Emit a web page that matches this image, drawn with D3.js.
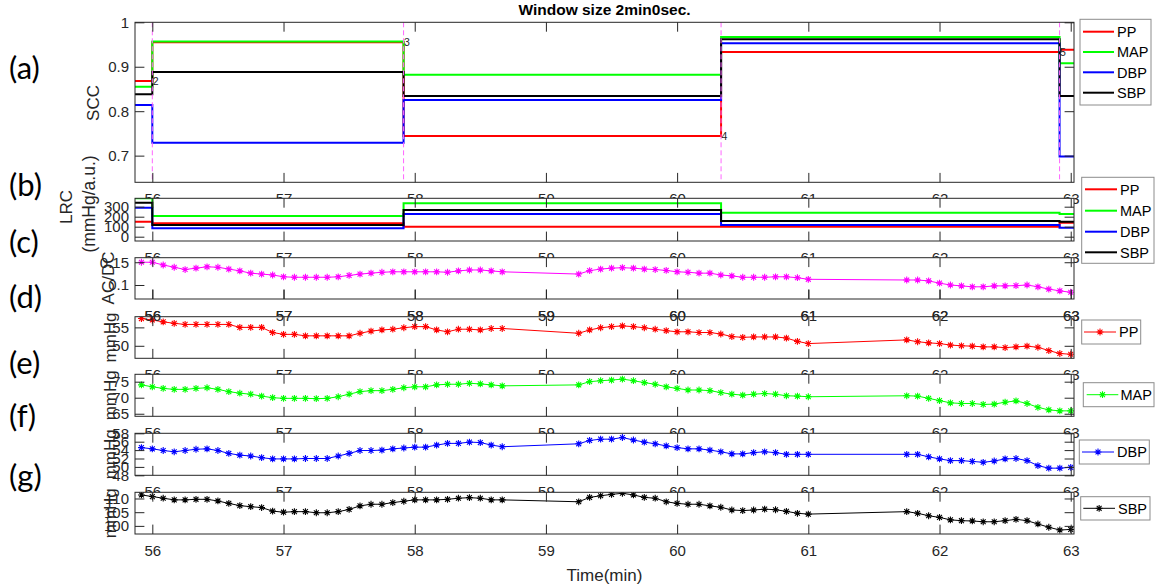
<!DOCTYPE html>
<html>
<head>
<meta charset="utf-8">
<script src="https://cdn.jsdelivr.net/npm/d3@7"></script>
<style>
  body { margin: 0; background: #fff; }
  svg text { font-family: Arial, "Liberation Sans", Helvetica, sans-serif; }
</style>
</head>
<body>
<svg id="chart" width="1156" height="588"></svg>
<script>
// ---------------- data ----------------
const xTicks = [56, 57, 58, 59, 60, 61, 62, 63];
const xDomain = [55.868, 63.025];

// analysis window edges (min) and numbered boundaries
const windowEdges = [55.868, 56.0, 57.915, 60.335, 62.915, 63.025];
const eventTimes = [56.0, 57.915, 60.335, 62.915];
const eventLabels = ["2", "3", "4", "5"];

const seriesNames = ["PP", "MAP", "DBP", "SBP"];

// (a) SCC per window
const sccPP  = [0.868, 0.955, 0.744, 0.933, 0.938];
const sccMAP = [0.855, 0.957, 0.882, 0.967, 0.908];
const sccDBP = [0.814, 0.729, 0.825, 0.953, 0.698];
const sccSBP = [0.838, 0.888, 0.834, 0.962, 0.834];
const sccTicks = [0.7, 0.8, 0.9, 1];

// (b) LRC per window
const lrcPP  = [150, 134, 100, 100, 140];
const lrcMAP = [384, 207, 334, 240, 227];
const lrcDBP = [290, 84, 227, 117, 90];
const lrcSBP = [340, 117, 267, 157, 150];
const lrcTicks = [0, 100, 200, 300];

// beat-averaged samples (min)
const time = [
  55.917, 56.000, 56.083, 56.167, 56.250, 56.333, 56.417, 56.500, 56.583, 56.667,
  56.750, 56.833, 56.917, 57.000, 57.083, 57.167, 57.250, 57.333, 57.417, 57.500,
  57.583, 57.667, 57.750, 57.833, 57.917, 58.000, 58.083, 58.167, 58.250, 58.333,
  58.417, 58.500, 58.583, 58.667,
  59.250, 59.333, 59.417, 59.500, 59.583, 59.667, 59.750, 59.833, 59.917, 60.000,
  60.083, 60.167, 60.250, 60.333, 60.417, 60.500, 60.583, 60.667, 60.750, 60.833,
  60.917, 61.000,
  61.750, 61.833, 61.917, 62.000, 62.083, 62.167, 62.250, 62.333, 62.417, 62.500,
  62.583, 62.667, 62.750, 62.833, 62.917, 63.000
];

// (c) AC/DC
const acdc = [
  0.150, 0.150, 0.144, 0.139, 0.134, 0.137, 0.140, 0.139, 0.135, 0.131,
  0.126, 0.124, 0.122, 0.118, 0.117, 0.117, 0.117, 0.117, 0.118, 0.121,
  0.124, 0.126, 0.128, 0.129, 0.129, 0.129, 0.129, 0.129, 0.128, 0.131,
  0.133, 0.133, 0.131, 0.129,
  0.124, 0.1315, 0.135, 0.137, 0.138, 0.137, 0.135, 0.134, 0.132, 0.129,
  0.128, 0.126, 0.126, 0.122, 0.120, 0.117, 0.117, 0.117, 0.118, 0.118,
  0.116, 0.1125,
  0.111, 0.111, 0.109, 0.104, 0.100, 0.098, 0.096, 0.096, 0.098, 0.098,
  0.0985, 0.100, 0.096, 0.091, 0.087, 0.084
];
const acdcTicks = [0.1, 0.15];

// (d) PP
const pp = [
  57.4, 57.0, 56.5, 56.1, 55.8, 55.8, 55.8, 55.8, 55.8, 55.0,
  55.0, 55.0, 53.6, 53.1, 53.1, 52.7, 52.7, 52.7, 52.7, 52.7,
  53.4, 54.0, 54.3, 54.5, 54.9, 55.2, 55.2, 54.3, 53.8, 54.5,
  54.5, 54.3, 54.7, 54.7,
  53.4, 54.3, 54.9, 55.2, 55.4, 55.2, 54.9, 54.5, 54.1, 53.8,
  53.8, 53.6, 53.6, 53.2, 52.5, 52.3, 52.4, 52.4, 52.4, 52.1,
  51.2, 50.6,
  51.6, 51.1, 50.8, 50.6, 50.2, 50.0, 49.9, 49.7, 49.7, 49.5,
  49.7, 49.9, 49.6, 48.7, 47.9, 47.7
];
const ppTicks = [50, 55];

// (e) MAP
const map = [
  74.0, 73.4, 72.9, 72.6, 72.6, 72.9, 73.1, 72.6, 71.9, 71.4,
  71.1, 70.5, 70.0, 69.8, 69.8, 69.8, 69.7, 69.8, 70.3, 71.1,
  71.9, 72.2, 72.2, 72.6, 73.1, 73.4, 73.4, 74.0, 74.2, 74.2,
  74.5, 74.3, 74.0, 73.7,
  74.0, 75.0, 75.3, 75.5, 75.8, 75.3, 74.7, 74.2, 73.4, 72.9,
  72.4, 72.4, 72.2, 71.6, 71.1, 70.8, 71.1, 71.3, 71.1, 70.6,
  70.5, 70.3,
  70.6, 70.5, 69.8, 69.1, 68.4, 68.2, 68.2, 67.9, 68.0, 68.6,
  69.0, 68.2, 67.0, 66.2, 65.9, 65.9
];
const mapTicks = [65, 70, 75];

// (f) DBP
const dbp = [
  54.6, 54.3, 53.9, 53.6, 53.9, 54.2, 54.3, 53.9, 53.2, 52.8,
  52.6, 52.2, 51.9, 51.9, 51.9, 52.0, 52.0, 52.0, 52.6, 53.2,
  53.9, 53.9, 54.0, 54.3, 54.5, 54.7, 54.7, 55.2, 55.6, 55.6,
  55.9, 55.8, 55.2, 54.8,
  55.5, 56.3, 56.6, 56.6, 57.0, 56.4, 55.9, 55.5, 55.0, 54.6,
  54.3, 54.3, 54.0, 53.6, 53.1, 53.1, 53.4, 53.6, 53.4, 53.0,
  53.0, 53.0,
  53.0, 53.0, 52.4, 51.9, 51.5, 51.5, 51.3, 51.1, 51.4, 51.9,
  52.0, 51.5, 50.3, 49.7, 49.7, 49.9
];
const dbpTicks = [48, 50, 52, 54, 56, 58];

// (g) SBP
const sbp = [
  111.3, 110.7, 110.1, 109.5, 109.5, 109.7, 109.7, 109.1, 108.2, 107.4,
  107.0, 106.7, 105.4, 105.0, 105.2, 105.2, 104.8, 104.8, 105.2, 106.0,
  107.3, 107.9, 107.9, 108.5, 109.0, 109.5, 109.5, 109.5, 109.7, 110.1,
  110.3, 110.1, 109.5, 109.5,
  108.8, 110.4, 111.0, 111.5, 111.9, 111.3, 110.4, 110.1, 108.8, 108.2,
  107.9, 107.9, 107.3, 106.8, 105.8, 105.6, 105.8, 106.1, 105.9, 105.3,
  104.6, 104.3,
  105.2, 104.6, 103.7, 103.1, 102.2, 101.9, 101.8, 101.5, 101.5, 101.9,
  102.4, 101.9, 100.7, 99.5, 98.5, 98.7
];
const sbpTicks = [100, 105, 110];

// ---------------- styles & layout ----------------
const COL = { PP: "#ff0000", MAP: "#00ff00", DBP: "#0000ff", SBP: "#000000" };
const MAGENTA = "#ff00ff";
const AX = "#262626";
const TICK = 9.4;
const X0 = 135, X1 = 1074;

const svg = d3.select("#chart");
svg.append("rect").attr("width", 1156).attr("height", 588).attr("fill", "#fff");

const x = d3.scaleLinear().domain(xDomain).range([X0, X1]);
const fmt = d => String(d);

// asterisk marker ('+' overlaid with 'x')
function asterisk(r) {
  const a = r * 0.72;
  return `M0,${-r}L0,${r}M${-r},0L${r},0M${-a},${-a}L${a},${a}M${-a},${a}L${a},${-a}`;
}

const panels = [
  { id: "a", top: 22.3,  bottom: 182.3, domain: [0.64, 1],       ticks: sccTicks },
  { id: "b", top: 198.3, bottom: 241,   domain: [-43, 384],      ticks: lrcTicks },
  { id: "c", top: 257.7, bottom: 299,   domain: [0.0692, 0.160], ticks: acdcTicks },
  { id: "d", top: 316.7, bottom: 358.3, domain: [46.6, 57.9],    ticks: ppTicks },
  { id: "e", top: 374.3, bottom: 416.3, domain: [64.2, 77.3],    ticks: mapTicks },
  { id: "f", top: 433.3, bottom: 475.3, domain: [48, 58],        ticks: dbpTicks },
  { id: "g", top: 492.3, bottom: 534,   domain: [97.04, 112.26], ticks: sbpTicks }
];

function yScale(p) {
  return d3.scaleLinear().domain(p.domain).range([p.bottom, p.top]);
}

function bottomAxis(g, p) {
  const ax = g.append("g")
    .attr("transform", `translate(0,${p.bottom})`)
    .call(d3.axisBottom(x).tickValues(xTicks).tickFormat(fmt)
      .tickSizeInner(-TICK).tickSizeOuter(0).tickPadding(11.5));
  ax.select(".domain").remove();
  ax.selectAll("line").attr("stroke", AX);
  ax.selectAll("text").attr("fill", AX).style("font-size", "15px");
  return ax;
}

function drawFrame(g, p, y) {
  const l = g.append("g").attr("transform", `translate(${X0},0)`)
    .call(d3.axisLeft(y).tickValues(p.ticks).tickFormat(fmt)
      .tickSizeInner(-TICK).tickSizeOuter(0).tickPadding(6));
  const r = g.append("g").attr("transform", `translate(${X1},0)`)
    .call(d3.axisRight(y).tickValues(p.ticks).tickFormat("")
      .tickSizeInner(-TICK).tickSizeOuter(0));
  const t = g.append("g").attr("transform", `translate(0,${p.top})`)
    .call(d3.axisTop(x).tickValues(xTicks).tickFormat("")
      .tickSizeInner(-TICK).tickSizeOuter(0));
  [l, r, t].forEach(a => {
    a.select(".domain").remove();
    a.selectAll("line").attr("stroke", AX);
    a.selectAll("text").attr("fill", AX).style("font-size", "15px");
  });
  g.append("rect")
    .attr("x", X0).attr("y", p.top)
    .attr("width", X1 - X0).attr("height", p.bottom - p.top)
    .attr("fill", "none").attr("stroke", AX).attr("stroke-width", 1);
}

function stepPoints(vals) {
  const pts = vals.map((v, i) => [windowEdges[i], v]);
  pts.push([windowEdges[windowEdges.length - 1], vals[vals.length - 1]]);
  return pts;
}

function drawPanel(p, content) {
  const g = svg.append("g").attr("class", "panel-" + p.id);
  const y = yScale(p);
  g.append("rect").attr("x", X0).attr("y", p.top)
    .attr("width", X1 - X0).attr("height", p.bottom - p.top).attr("fill", "#fff");
  g.append("clipPath").attr("id", "clip-" + p.id)
    .append("rect").attr("x", X0).attr("y", p.top)
    .attr("width", X1 - X0).attr("height", p.bottom - p.top);
  const inner = g.append("g").attr("clip-path", `url(#clip-${p.id})`);
  content(inner, y, g);
  drawFrame(g, p, y);
  bottomAxis(g, p);
  return g;
}

const stepSets = {
  a: [sccPP, sccMAP, sccDBP, sccSBP],
  b: [lrcPP, lrcMAP, lrcDBP, lrcSBP]
};

function drawSteps(inner, y, sets) {
  const line = d3.line().x(d => x(d[0])).y(d => y(d[1])).curve(d3.curveStepAfter);
  sets.forEach((vals, i) => {
    inner.append("path").datum(stepPoints(vals))
      .attr("d", line).attr("fill", "none")
      .attr("stroke", COL[seriesNames[i]]).attr("stroke-width", 2);
  });
}

function drawSeries(inner, y, vals, color) {
  const pts = time.map((t, i) => [t, vals[i]]);
  const line = d3.line().x(d => x(d[0])).y(d => y(d[1]));
  inner.append("path").datum(pts).attr("d", line)
    .attr("fill", "none").attr("stroke", color).attr("stroke-width", 1);
  inner.selectAll("path.mk").data(pts).enter().append("path")
    .attr("class", "mk")
    .attr("transform", d => `translate(${x(d[0])},${y(d[1])})`)
    .attr("d", asterisk(3.4))
    .attr("fill", "none").attr("stroke", color).attr("stroke-width", 1.1);
}

// (a)
drawPanel(panels[0], (inner, y, g) => {
  drawSteps(inner, y, stepSets.a);
  eventTimes.forEach(t => {
    inner.append("line")
      .attr("x1", x(t)).attr("x2", x(t))
      .attr("y1", panels[0].top).attr("y2", panels[0].bottom)
      .attr("stroke", "#ff66ff").attr("stroke-width", 1)
      .attr("stroke-dasharray", "5,3");
  });
  eventTimes.forEach((t, i) => {
    g.append("text")
      .attr("x", x(t) + 0.5).attr("y", y(sccPP[i]))
      .attr("dy", "0.38em")
      .attr("fill", AX).style("font-size", "10.5px")
      .text(eventLabels[i]);
  });
});
// (b)
drawPanel(panels[1], (inner, y) => drawSteps(inner, y, stepSets.b));
// (c)
drawPanel(panels[2], (inner, y) => drawSeries(inner, y, acdc, MAGENTA));
// (d)
drawPanel(panels[3], (inner, y) => drawSeries(inner, y, pp, COL.PP));
// tick labels of (c) sit over the top edge of (d)
bottomAxis(svg.append("g"), panels[2]);
// (e)
drawPanel(panels[4], (inner, y) => drawSeries(inner, y, map, COL.MAP));
// (f)
drawPanel(panels[5], (inner, y) => drawSeries(inner, y, dbp, COL.DBP));
// (g)
drawPanel(panels[6], (inner, y) => drawSeries(inner, y, sbp, COL.SBP));

// ---------------- legends ----------------
function boxLegend(box, rows, lx1, lx2, tx, withMarker, lineW) {
  const g = svg.append("g");
  g.append("rect").attr("x", box[0]).attr("y", box[1])
    .attr("width", box[2] - box[0]).attr("height", box[3] - box[1])
    .attr("fill", "#fff").attr("stroke", "#8c8c8c").attr("stroke-width", 1);
  rows.forEach(r => {
    g.append("line").attr("x1", lx1).attr("x2", lx2).attr("y1", r.y).attr("y2", r.y)
      .attr("stroke", r.color).attr("stroke-width", lineW);
    if (withMarker) {
      g.append("path").attr("transform", `translate(${(lx1 + lx2) / 2},${r.y})`)
        .attr("d", asterisk(3.4)).attr("fill", "none")
        .attr("stroke", r.color).attr("stroke-width", 1.1);
    }
    g.append("text").attr("x", tx).attr("y", r.y).attr("dy", "0.36em")
      .attr("fill", "#000").style("font-size", "14.5px").text(r.name);
  });
}

const rowsA = [31.7, 52, 72.3, 92.7].map((yy, i) => ({ y: yy, name: seriesNames[i], color: COL[seriesNames[i]] }));
boxLegend([1080, 19.3, 1151, 105], rowsA, 1083, 1114, 1117, false, 2);
const rowsB = [189.3, 210.7, 231.7, 252.3].map((yy, i) => ({ y: yy, name: seriesNames[i], color: COL[seriesNames[i]] }));
boxLegend([1081.7, 177.3, 1154, 263.3], rowsB, 1085, 1117, 1120, false, 2);

boxLegend([1081.7, 320, 1140.7, 344], [{ y: 332, name: "PP", color: COL.PP }], 1084, 1116, 1119, true, 1);
boxLegend([1083.3, 382.7, 1154, 406.7], [{ y: 394.7, name: "MAP", color: COL.MAP }], 1086.7, 1118.3, 1120.5, true, 1);
boxLegend([1079.3, 440, 1149.3, 464], [{ y: 452, name: "DBP", color: COL.DBP }], 1082, 1114, 1117, true, 1);
boxLegend([1080.7, 496.7, 1150, 520], [{ y: 508.3, name: "SBP", color: COL.SBP }], 1083.3, 1115, 1118, true, 1);

// ---------------- axis titles ----------------
function vLabel(text, cx, cy, size) {
  svg.append("text")
    .attr("transform", `translate(${cx},${cy}) rotate(-90)`)
    .attr("text-anchor", "middle").attr("dy", "0.35em")
    .attr("fill", AX).style("font-size", size + "px").text(text);
}
vLabel("SCC", 93, 103, 17);
vLabel("LRC", 66, 207, 17);
vLabel("(mmHg/a.u.)", 89, 204, 17.5);
vLabel("AC/DC", 108, 278, 17);
vLabel("mmHg", 110, 337.5, 17);
vLabel("mmHg", 110, 395.3, 17);
vLabel("mmHg", 110, 454.3, 17);
vLabel("mmHg", 110, 513.2, 17);

svg.append("text").attr("x", (X0 + X1) / 2).attr("y", 15)
  .attr("text-anchor", "middle").attr("fill", "#000")
  .style("font-size", "15.5px").style("font-weight", "bold")
  .text("Window size 2min0sec.");

svg.append("text").attr("x", (X0 + X1) / 2).attr("y", 580.5)
  .attr("text-anchor", "middle").attr("fill", AX)
  .style("font-size", "17px").text("Time(min)");

// panel tags
const tagNames = ["(a)", "(b)", "(c)", "(d)", "(e)", "(f)", "(g)"];
const tagY = [70.8, 187.5, 244, 299, 365, 418, 478];
tagNames.forEach((t, i) => {
  svg.append("text").attr("x", 9).attr("y", tagY[i] + 8.5)
    .attr("fill", "#000").style("font-family", "Lato, 'Open Sans', sans-serif")
    .style("font-size", "31px").text(t);
});
</script>
</body>
</html>
